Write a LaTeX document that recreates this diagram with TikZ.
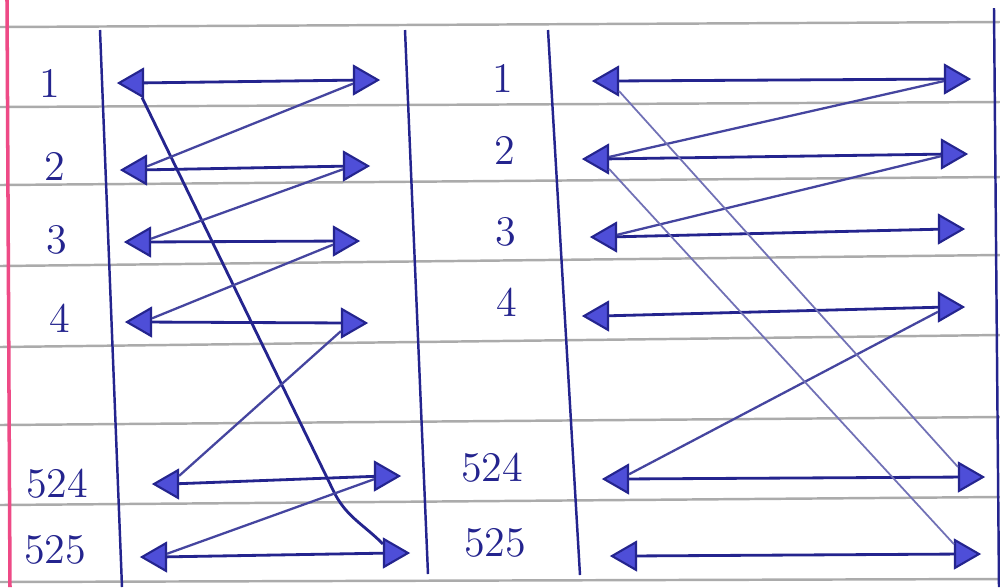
\documentclass[tikz,border=0pt]{standalone}
\usepackage{xcolor}
\usepackage{tikz}
\usetikzlibrary{shapes.geometric}
\definecolor{penblue}{HTML}{24248E}
\definecolor{inkfill}{HTML}{4E4ED8}
\definecolor{ruled}{HTML}{ABABAB}
\definecolor{margin}{HTML}{EE4A86}
\tikzset{
  headl/.style={regular polygon, regular polygon sides=3, shape border rotate=90, draw=penblue, fill=inkfill, minimum size=3.2mm, inner sep=0pt, line width=0.6pt},
  headr/.style={headl, shape border rotate=-90},
  num/.style={font=\large, text=penblue},
  link/.style={draw=penblue, line width=0.8pt},
  cross/.style={draw=penblue!85, line width=0.65pt},
  faint/.style={draw=penblue!65, line width=0.5pt},
  rule/.style={draw=ruled, line width=0.7pt},
  col/.style={draw=penblue, line width=0.7pt}
}

\begin{document}
\begin{tikzpicture}[x=0.1mm, y=-0.1mm]
    \useasboundingbox[fill=white] (0,0) rectangle (1000,587);
    \draw[rule] (0,27) -- (1000,22);
    \draw[rule] (0,107) -- (1000,102);
    \draw[rule] (0,185) -- (1000,177);
    \draw[rule] (0,266) -- (1000,255);
    \draw[rule] (0,347) -- (1000,335);
    \draw[rule] (0,425) -- (1000,417);
    \draw[rule] (0,505) -- (1000,497);
    \draw[rule] (0,582) -- (1000,579);
    \draw[draw=margin, line width=1pt] (7,0) -- (10,587);
    \draw[col] (100,30) -- (122,587);
    \draw[col] (405,30) -- (428,574);
    \draw[col] (548,30) -- (580,575);
    \draw[col] (994,8) -- (999,587);

    \node[num] (na1) at (50,83) {1};
    \node[num] (na2) at (55,166) {2};
    \node[num] (na3) at (57,240) {3};
    \node[num] (na4) at (60,318) {4};
    \node[num] (na524) at (57,484) {524};
    \node[num] (na525) at (55,550) {525};

    \node[num] (nb1) at (503,78) {1};
    \node[num] (nb2) at (505,150) {2};
    \node[num] (nb3) at (506,232) {3};
    \node[num] (nb4) at (507,302) {4};
    \node[num] (nb524) at (492,468) {524};
    \node[num] (nb525) at (495,543) {525};

    \node[headl] (la1) at (135,83) {};
    \node[headr] (ra1) at (362,80) {};
    \node[headl] (la2) at (138,170) {};
    \node[headr] (ra2) at (352,166) {};
    \node[headl] (la3) at (142,242) {};
    \node[headr] (ra3) at (342,241) {};
    \node[headl] (la4) at (143,322) {};
    \node[headr] (ra4) at (350,323) {};
    \node[headl] (la524) at (170,484) {};
    \node[headr] (ra524) at (383,476) {};
    \node[headl] (la525) at (158,557) {};
    \node[headr] (ra525) at (392,553) {};

    \node[headl] (lb1) at (610,81) {};
    \node[headr] (rb1) at (953,79) {};
    \node[headl] (lb2) at (600,159) {};
    \node[headr] (rb2) at (950,154) {};
    \node[headl] (lb3) at (608,237) {};
    \node[headr] (rb3) at (947,229) {};
    \node[headl] (lb4) at (600,316) {};
    \node[headr] (rb4) at (947,307) {};
    \node[headl] (lb524) at (620,479) {};
    \node[headr] (rb524) at (967,477) {};
    \node[headl] (lb525) at (628,556) {};
    \node[headr] (rb525) at (963,554) {};

    \draw[link] (la1) -- (333,490) to[out=-65, in=135] (ra525);

    \draw[link] (la1) -- (ra1);
    \draw[cross] (ra1) -- (la2);
    \draw[link] (la2) -- (ra2);
    \draw[cross] (ra2) -- (la3);
    \draw[link] (la3) -- (ra3);
    \draw[cross] (ra3) -- (la4);
    \draw[link] (la4) -- (ra4);
    \draw[cross] (ra4) -- (la524);
    \draw[link] (la524) -- (ra524);
    \draw[cross] (ra524) -- (la525);
    \draw[link] (la525) -- (ra525);

    \draw[link] (lb1) -- (rb1);
    \draw[cross] (rb1) -- (lb2);
    \draw[link] (lb2) -- (rb2);
    \draw[cross] (rb2) -- (lb3);
    \draw[link] (lb3) -- (rb3);
    \draw[link] (lb4) -- (rb4);
    \draw[cross] (rb4) -- (lb524);
    \draw[link] (lb524) -- (rb524);
    \draw[link] (lb525) -- (rb525);
    \draw[faint] (lb1) -- (rb524);
    \draw[faint] (lb2) -- (rb525);
  \end{tikzpicture}
\end{document}
